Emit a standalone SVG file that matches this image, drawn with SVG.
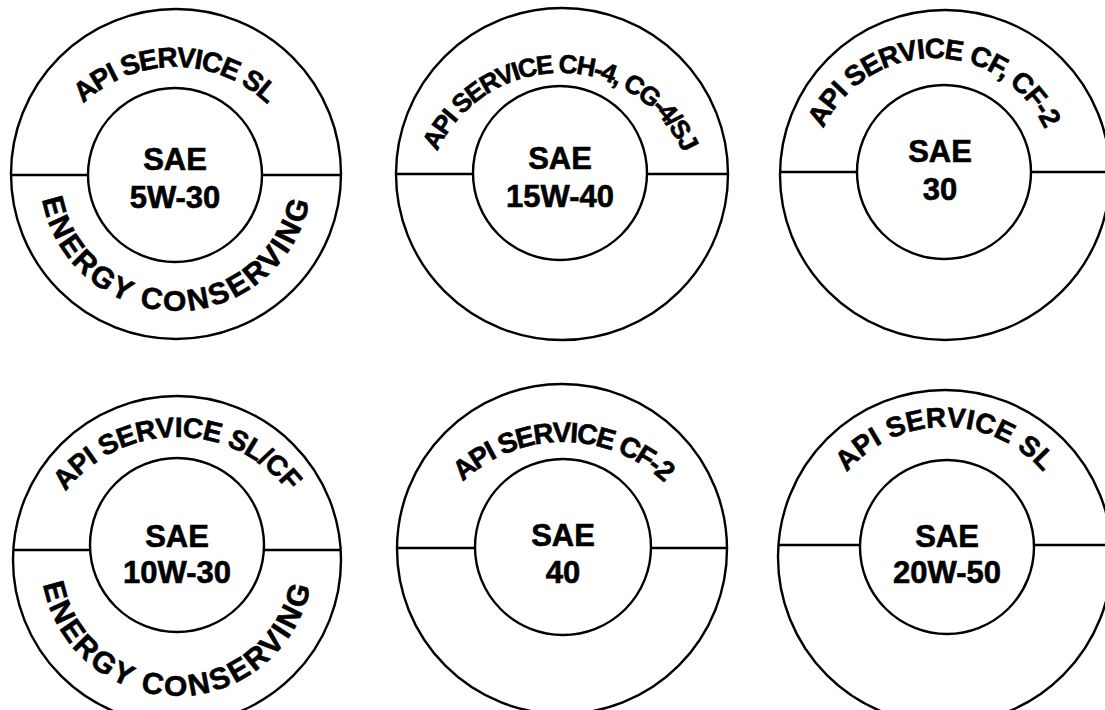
<svg xmlns="http://www.w3.org/2000/svg" width="1105" height="710" viewBox="0 0 1105 710">
<style>
.o{fill:none;stroke:#000;stroke-width:2.4}
.t{font-family:"Liberation Sans",Arial,Helvetica,sans-serif;font-weight:bold;fill:#000;stroke:#000;stroke-width:0.6}
.c{font-size:31px;text-anchor:middle}
.a{font-size:28px}
.b{font-size:30px}
</style>
<defs>
<path id="p1t" d="M 42 200 A 133 133 0 0 1 308 200"/>
<path id="p1b" d="M 40 175 A 136 136 0 0 0 312 175"/>
<path id="p2t" d="M 425 208 A 135 135 0 0 1 695 208"/>
<path id="p3t" d="M 812 180 A 122 122 0 0 1 1056 180"/>
<path id="p4t" d="M 36 578 A 141 141 0 0 1 318 578"/>
<path id="p4b" d="M 41 560 A 136 136 0 0 0 313 560"/>
<path id="p5t" d="M 417 588 A 146 146 0 0 1 709 588"/>
<path id="p6t" d="M 816 556 A 129 129 0 0 1 1074 556"/>
</defs>
<rect width="1105" height="710" fill="#fff"/>
<g id="sym1">
<circle class="o" cx="176" cy="174" r="165"/>
<circle class="o" cx="175" cy="175" r="87"/>
<path class="o" d="M 11 175 H 88 M 262 175 H 341"/>
<text class="t a" letter-spacing="-1.3"><textPath href="#p1t" startOffset="50%" text-anchor="middle">API SERVICE SL</textPath></text>
<text class="t b" letter-spacing="2.5"><textPath href="#p1b" startOffset="50%" text-anchor="middle">ENERGY CONSERVING</textPath></text>
<text class="t c" x="175" y="170">SAE</text>
<text class="t c" x="175" y="208">5W-30</text>
</g>
<g id="sym2">
<circle class="o" cx="562" cy="174" r="166"/>
<circle class="o" cx="560" cy="173" r="87"/>
<path class="o" d="M 396 174 H 473 M 647 174 H 728"/>
<text class="t" font-size="26" letter-spacing="-1.6"><textPath href="#p2t" startOffset="50%" text-anchor="middle">API SERVICE CH-4, CG-4/SJ</textPath></text>
<text class="t c" x="560" y="169">SAE</text>
<text class="t c" x="560" y="207">15W-40</text>
</g>
<g id="sym3">
<circle class="o" cx="945" cy="175" r="165"/>
<circle class="o" cx="944" cy="172" r="87"/>
<path class="o" d="M 780 172 H 857 M 1031 172 H 1110"/>
<text class="t a" letter-spacing="-1"><textPath href="#p3t" startOffset="50%" text-anchor="middle">API SERVICE CF, CF-2</textPath></text>
<text class="t c" x="940" y="162">SAE</text>
<text class="t c" x="940" y="200">30</text>
</g>
<g id="sym4">
<circle class="o" cx="177" cy="560" r="164"/>
<circle class="o" cx="177" cy="545" r="87"/>
<path class="o" d="M 13 550 H 90 M 264 550 H 341"/>
<text class="t a" letter-spacing="-0.5"><textPath href="#p4t" startOffset="50%" text-anchor="middle">API SERVICE SL/CF</textPath></text>
<text class="t b" letter-spacing="2.5"><textPath href="#p4b" startOffset="50%" text-anchor="middle">ENERGY CONSERVING</textPath></text>
<text class="t c" x="177" y="547">SAE</text>
<text class="t c" x="177" y="583">10W-30</text>
</g>
<g id="sym5">
<circle class="o" cx="562" cy="549" r="165"/>
<circle class="o" cx="563" cy="547" r="88"/>
<path class="o" d="M 397 548 H 475 M 651 548 H 727"/>
<text class="t a" letter-spacing="-1.6"><textPath href="#p5t" startOffset="50%" text-anchor="middle">API SERVICE CF-2</textPath></text>
<text class="t c" x="563" y="546">SAE</text>
<text class="t c" x="563" y="583">40</text>
</g>
<g id="sym6">
<circle class="o" cx="945" cy="557" r="167"/>
<circle class="o" cx="947" cy="547" r="87"/>
<path class="o" d="M 778 545 H 860 M 1034 545 H 1112"/>
<text class="t a" letter-spacing="0.2"><textPath href="#p6t" startOffset="50%" text-anchor="middle">API SERVICE SL</textPath></text>
<text class="t c" x="947" y="547">SAE</text>
<text class="t c" x="947" y="583">20W-50</text>
</g>
<g id="connectors"/>
</svg>
